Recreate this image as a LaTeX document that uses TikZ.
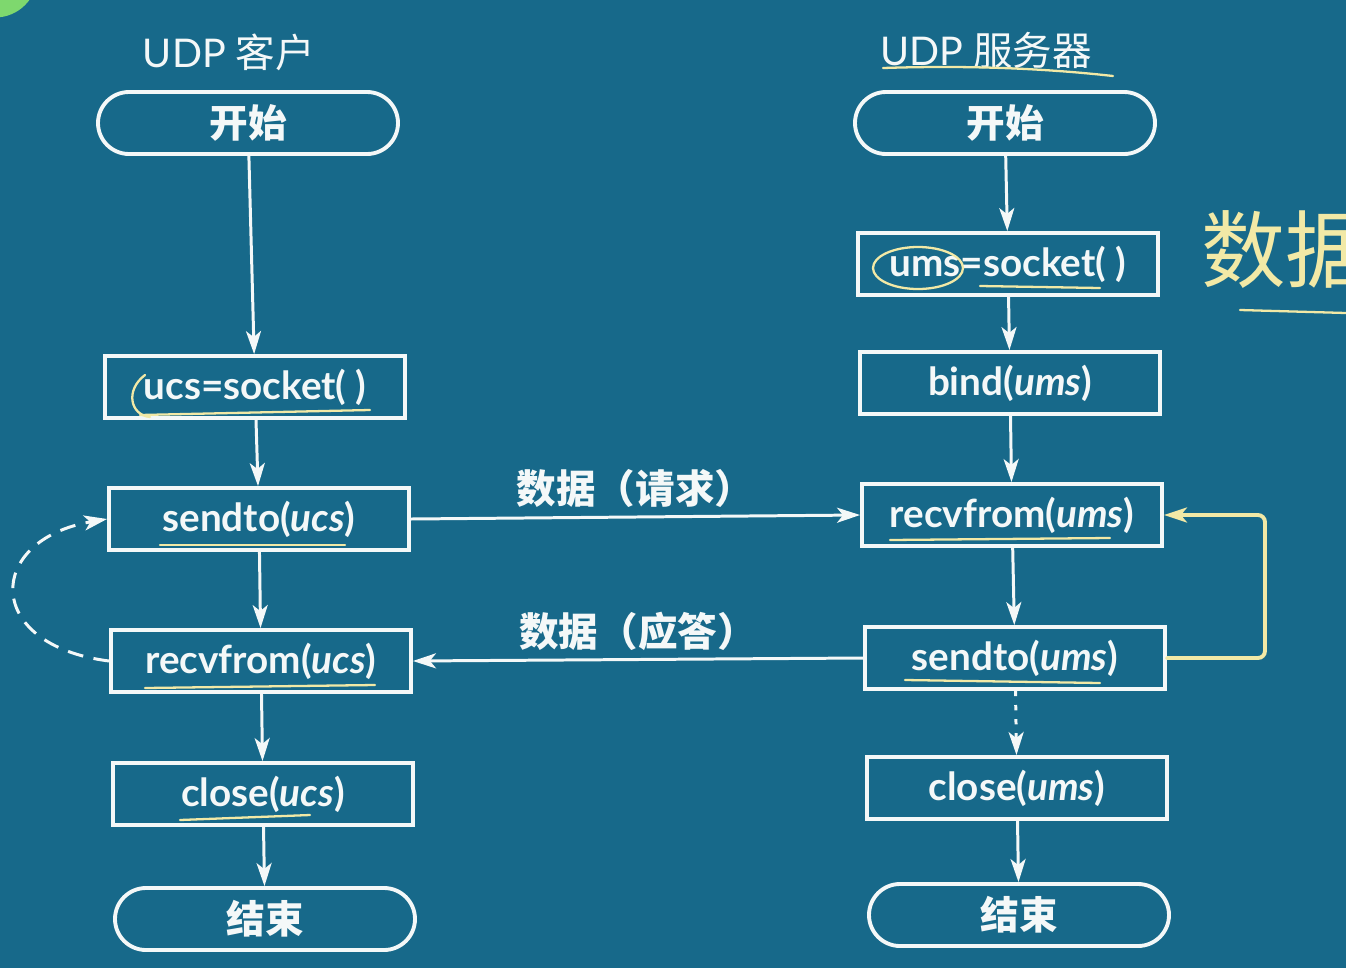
\documentclass[tikz,border=0pt]{standalone}
\usepackage{fontspec}
\setmainfont{Lato}[BoldFont={Lato Bold}, BoldItalicFont={Lato Bold Italic}]
\newfontfamily\cjk{Noto Sans CJK SC}
\usetikzlibrary{arrows.meta, positioning, calc, shapes.misc}
\definecolor{boardblue}{HTML}{17698A}
\definecolor{chalk}{HTML}{F4F8F8}
\definecolor{penyellow}{HTML}{F2E9A6}
\definecolor{dotgreen}{HTML}{7ED86E}

\begin{document}
\begin{tikzpicture}[box/.style={draw=chalk,
        line width=2.2pt,
        minimum width=6cm,
        minimum height=1.24cm,
        inner sep=0pt,
        text=chalk,
        font=\fontsize{22}{26}\selectfont\bfseries},
    term/.style={box, rounded rectangle},
    flow/.style={draw=chalk, line width=1.7pt, ->},
    lbl/.style={text=chalk, font=\cjk\fontsize{22.5}{26}\selectfont\bfseries},
    pen/.style={draw=penyellow, line width=1.3pt, line cap=round},
    >={Stealth[length=4.6mm, width=3mm, inset=1.2mm]}]
        \fill[boardblue] (0,0) rectangle (26.92,-19.36);
        \useasboundingbox (0,0) rectangle (26.92,-19.36);
        \fill[dotgreen] (-0.1,0.5) circle (0.85);
        % client side
        \node[text=chalk, font=\fontsize{22.5}{26}\selectfont] at (4.58,-1.04) (ltitle) {UDP {\cjk 客户}};
        \node[term] at (4.96,-2.46) (lstart) {\cjk 开始};
        \node[box] at (5.10,-7.74) (lsock) {ucs=socket( )};
        \node[box] at (5.18,-10.38) (lsend) {sendto(\textit{ucs})};
        \node[box] at (5.22,-13.22) (lrecv) {recvfrom(\textit{ucs})};
        \node[box] at (5.26,-15.88) (lclose) {close(\textit{ucs})};
        \node[term] at (5.30,-18.38) (lend) {\cjk 结束};
        % server side
        \node[text=chalk, font=\fontsize{22.5}{26}\selectfont] at (19.72,-1.00) (rtitle) {UDP {\cjk 服务器}};
        \node[term] at (20.10,-2.46) (rstart) {\cjk 开始};
        \node[box] at (20.16,-5.28) (rsock) {ums=socket( )};
        \node[box] at (20.20,-7.66) (rbind) {bind(\textit{ums})};
        \node[box] at (20.24,-10.30) (rrecv) {recvfrom(\textit{ums})};
        \node[box] at (20.30,-13.16) (rsend) {sendto(\textit{ums})};
        \node[box] at (20.34,-15.76) (rclose) {close(\textit{ums})};
        \node[term] at (20.38,-18.30) (rend) {\cjk 结束};
        % flow
        \draw[flow] (lstart) -- (lsock);
        \draw[flow] (lsock) -- (lsend);
        \draw[flow] (lsend) -- (lrecv);
        \draw[flow] (lrecv) -- (lclose);
        \draw[flow] (lclose) -- (lend);
        \draw[flow] (rstart) -- (rsock);
        \draw[flow] (rsock) -- (rbind);
        \draw[flow] (rbind) -- (rrecv);
        \draw[flow] (rrecv) -- (rsend);
        \draw[flow, dash pattern=on 3pt off 5pt] (rsend) -- (rclose);
        \draw[flow] (rclose) -- (rend);
        \draw[flow] (lsend.east) -- node[lbl, above=1pt] (req) {数据（请求）} (rrecv.west);
        \draw[flow] (rsend.west) -- node[lbl, above=1pt] (ans) {数据（应答）} (lrecv.east);
        \draw[flow, dash pattern=on 9pt off 6pt] (lrecv.west) .. controls (-0.35,-12.9) and (-0.3,-10.8) .. (lsend.west);
        % handwriting
        \coordinate (loopr) at (25.3,-12.2);
        \draw[pen, line width=2.2pt, ->, rounded corners=4pt] (rsend.east) -| (loopr) |- (rrecv.east);
        \node[text=penyellow, font=\cjk\fontsize{48}{48}\selectfont, anchor=west] at (23.9,-5.0) (hand) {数据};
        \draw[pen] (24.8,-6.2) -- (26.92,-6.26);
        \draw[pen] (17.66,-1.36) .. controls (19.5,-1.30) and (21.0,-1.38) .. (22.26,-1.52);
        \draw[pen] (18.36,-5.36) ellipse (0.9 and 0.42);
        \draw[pen] (19.6,-5.72) -- (22.0,-5.76);
        \draw[pen] (2.9,-7.50) .. controls (2.5,-7.8) and (2.6,-8.3) .. (3.0,-8.34);
        \draw[pen] (2.8,-8.30) -- (7.4,-8.20);
        \draw[pen] (3.2,-10.90) -- (6.9,-10.90);
        \draw[pen] (2.9,-13.76) -- (7.5,-13.70);
        \draw[pen] (3.6,-16.40) -- (6.2,-16.30);
        \draw[pen] (17.8,-10.80) -- (22.2,-10.76);
        \draw[pen] (18.1,-13.60) -- (22.0,-13.66);
    \end{tikzpicture}
\end{document}
